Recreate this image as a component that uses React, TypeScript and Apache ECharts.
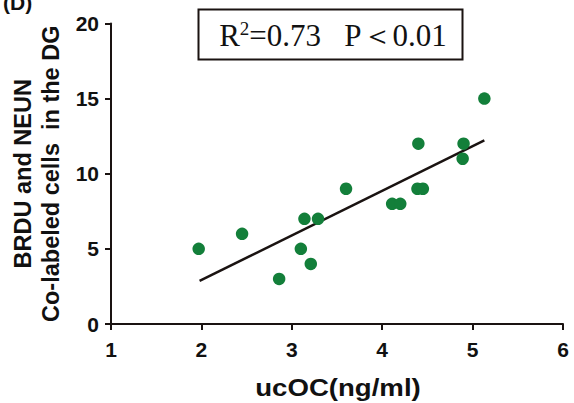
import React, { useEffect, useRef } from "react";
import * as echarts from "echarts";

const xValues = [1.97, 2.45, 2.86, 3.1, 3.14, 3.21, 3.29, 3.6, 4.11, 4.2, 4.4, 4.39, 4.45, 4.9, 4.89, 5.13];
const yValues = [5, 6, 3, 5, 7, 4, 7, 9, 8, 8, 12, 9, 9, 12, 11, 15];
const fitLine = [
  [1.98, 2.87],
  [5.13, 12.22],
];
const xTicks = [1, 2, 3, 4, 5, 6];
const yTicks = [0, 5, 10, 15, 20];
const xName = "ucOC(ng/ml)";
const yName = "BRDU and NEUN\nCo-labeled cells  in the DG";

export default function App() {
  const ref = useRef<HTMLDivElement>(null);
  useEffect(() => {
    const chart = echarts.init(ref.current!, undefined, { renderer: "svg" });
    const axisFont = { fontFamily: "Liberation Sans, Arial, sans-serif", fontWeight: "bold" as const, fontSize: 21, color: "#111" };
    chart.setOption({
      animation: false,
      grid: { left: 111, right: 11, top: 23.5, bottom: 79, containLabel: false, outerBoundsMode: "none" },
      xAxis: {
        type: "value",
        min: xTicks[0],
        max: xTicks[xTicks.length - 1],
        interval: 1,
        axisLine: { lineStyle: { color: "#1a1311", width: 2 } },
        axisTick: { show: true, length: 6, lineStyle: { color: "#1a1311", width: 2 } },
        axisLabel: { ...axisFont, margin: 15 },
        splitLine: { show: false },
      },
      yAxis: {
        type: "value",
        min: yTicks[0],
        max: yTicks[yTicks.length - 1],
        interval: 5,
        name: yName,
        nameLocation: "middle",
        nameGap: 42.5,
        nameRotate: 90,
        nameTextStyle: { ...axisFont, fontSize: 23.5, lineHeight: 28 },
        axisLine: { show: true, lineStyle: { color: "#1a1311", width: 2 } },
        axisTick: { show: true, length: 6, lineStyle: { color: "#1a1311", width: 2 } },
        axisLabel: { ...axisFont, margin: 12 },
        splitLine: { show: false },
      },
      series: [
        {
          type: "line",
          data: fitLine,
          showSymbol: false,
          symbol: "none",
          lineStyle: { color: "#1a1311", width: 2.5 },
          z: 1,
        },
        {
          type: "scatter",
          data: xValues.map((x, i) => [x, yValues[i]]),
          symbolSize: 12.5,
          itemStyle: { color: "#137f3a", opacity: 1 },
          z: 2,
        },
      ],
      graphic: [
        {
          type: "text",
          x: 3,
          y: 2,
          style: {
            text: "(D)",
            font: "bold 21px 'Liberation Sans', Arial, sans-serif",
            fill: "#111",
            verticalAlign: "middle",
          },
        },
        {
          type: "text",
          x: 338,
          y: 388,
          scaleX: 1.2,
          style: {
            text: xName,
            font: "bold 23px 'Liberation Sans', Arial, sans-serif",
            fill: "#111",
            align: "center",
            verticalAlign: "middle",
          },
        },
        {
          type: "rect",
          shape: { x: 198.5, y: 9.5, width: 264, height: 50 },
          style: { fill: "#fff", stroke: "#1a1311", lineWidth: 2 },
        },
        {
          type: "text",
          x: 333,
          y: 35,
          style: {
            text: "{r|R}{s|2}{r|=0.73   P＜0.01}",
            align: "center",
            verticalAlign: "middle",
            rich: {
              r: { fontFamily: "Liberation Serif, Times New Roman, serif", fontSize: 31, fill: "#111", verticalAlign: "bottom" },
              s: { fontFamily: "Liberation Serif, Times New Roman, serif", fontSize: 19, fill: "#111", verticalAlign: "top", padding: [0, 0, 13, 0] },
            },
          },
        },
      ],
    });
    return () => chart.dispose();
  }, []);
  return <div ref={ref} style={{ width: 574, height: 403, position: "absolute", left: 0, top: 0 }} />;
}
